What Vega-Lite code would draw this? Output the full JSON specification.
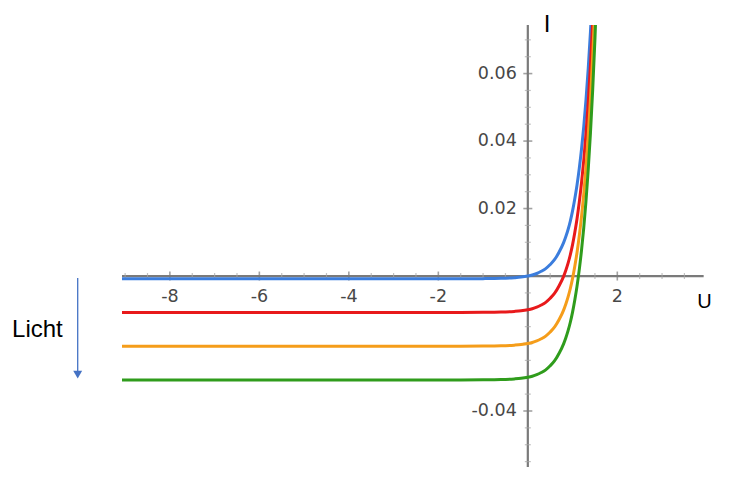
{
  "$schema": "https://vega.github.io/schema/vega-lite/v6.json",
  "width": 583,
  "height": 442,
  "autosize": {"type": "none"},
  "padding": {"left": 122, "top": 25, "right": 32, "bottom": 14},
  "background": "white",
  "config": {"view": {"stroke": null}},
  "data": {"values": [{}]},
  "datasets": {
    "curves": [
      {"U": -9.07, "I": -0.0008, "c": "dark"},
      {"U": -6, "I": -0.0008, "c": "dark"},
      {"U": -3, "I": -0.0008, "c": "dark"},
      {"U": -1.5, "I": -0.0008, "c": "dark"},
      {"U": -1, "I": -0.00077, "c": "dark"},
      {"U": -0.6, "I": -0.00069, "c": "dark"},
      {"U": -0.3, "I": -0.00049, "c": "dark"},
      {"U": -0.15, "I": -0.00031, "c": "dark"},
      {"U": 0, "I": 0, "c": "dark"},
      {"U": 0.1, "I": 0.0003, "c": "dark"},
      {"U": 0.2, "I": 0.00075, "c": "dark"},
      {"U": 0.3, "I": 0.0014, "c": "dark"},
      {"U": 0.4, "I": 0.0022, "c": "dark"},
      {"U": 0.5, "I": 0.0034, "c": "dark"},
      {"U": 0.6, "I": 0.0049, "c": "dark"},
      {"U": 0.7, "I": 0.0071, "c": "dark"},
      {"U": 0.8, "I": 0.0099, "c": "dark"},
      {"U": 0.85, "I": 0.0117, "c": "dark"},
      {"U": 0.9, "I": 0.0138, "c": "dark"},
      {"U": 0.95, "I": 0.0163, "c": "dark"},
      {"U": 1.0, "I": 0.0193, "c": "dark"},
      {"U": 1.05, "I": 0.0229, "c": "dark"},
      {"U": 1.1, "I": 0.027, "c": "dark"},
      {"U": 1.15, "I": 0.0319, "c": "dark"},
      {"U": 1.2, "I": 0.0376, "c": "dark"},
      {"U": 1.25, "I": 0.0443, "c": "dark"},
      {"U": 1.3, "I": 0.0522, "c": "dark"},
      {"U": 1.35, "I": 0.0615, "c": "dark"},
      {"U": 1.4, "I": 0.0724, "c": "dark"},
      {"U": 1.45, "I": 0.0852, "c": "dark"},
      {"U": 1.5, "I": 0.1002, "c": "dark"},

      {"U": -9.07, "I": -0.0108, "c": "low"},
      {"U": -6, "I": -0.0108, "c": "low"},
      {"U": -3, "I": -0.0108, "c": "low"},
      {"U": -1.5, "I": -0.0108, "c": "low"},
      {"U": -1, "I": -0.01077, "c": "low"},
      {"U": -0.6, "I": -0.01069, "c": "low"},
      {"U": -0.3, "I": -0.01049, "c": "low"},
      {"U": -0.15, "I": -0.01031, "c": "low"},
      {"U": 0, "I": -0.01, "c": "low"},
      {"U": 0.1, "I": -0.0097, "c": "low"},
      {"U": 0.2, "I": -0.00925, "c": "low"},
      {"U": 0.3, "I": -0.0086, "c": "low"},
      {"U": 0.4, "I": -0.0078, "c": "low"},
      {"U": 0.5, "I": -0.0066, "c": "low"},
      {"U": 0.6, "I": -0.0051, "c": "low"},
      {"U": 0.7, "I": -0.0029, "c": "low"},
      {"U": 0.8, "I": -0.0001, "c": "low"},
      {"U": 0.85, "I": 0.0017, "c": "low"},
      {"U": 0.9, "I": 0.0038, "c": "low"},
      {"U": 0.95, "I": 0.0063, "c": "low"},
      {"U": 1.0, "I": 0.0093, "c": "low"},
      {"U": 1.05, "I": 0.0129, "c": "low"},
      {"U": 1.1, "I": 0.017, "c": "low"},
      {"U": 1.15, "I": 0.0219, "c": "low"},
      {"U": 1.2, "I": 0.0276, "c": "low"},
      {"U": 1.25, "I": 0.0343, "c": "low"},
      {"U": 1.3, "I": 0.0422, "c": "low"},
      {"U": 1.35, "I": 0.0515, "c": "low"},
      {"U": 1.4, "I": 0.0624, "c": "low"},
      {"U": 1.45, "I": 0.0752, "c": "low"},
      {"U": 1.5, "I": 0.0902, "c": "low"},
      {"U": 1.55, "I": 0.1079, "c": "low"},

      {"U": -9.07, "I": -0.0208, "c": "mid"},
      {"U": -6, "I": -0.0208, "c": "mid"},
      {"U": -3, "I": -0.0208, "c": "mid"},
      {"U": -1.5, "I": -0.0208, "c": "mid"},
      {"U": -1, "I": -0.02077, "c": "mid"},
      {"U": -0.6, "I": -0.02069, "c": "mid"},
      {"U": -0.3, "I": -0.02049, "c": "mid"},
      {"U": -0.15, "I": -0.02031, "c": "mid"},
      {"U": 0, "I": -0.02, "c": "mid"},
      {"U": 0.1, "I": -0.0197, "c": "mid"},
      {"U": 0.2, "I": -0.01925, "c": "mid"},
      {"U": 0.3, "I": -0.0186, "c": "mid"},
      {"U": 0.4, "I": -0.0178, "c": "mid"},
      {"U": 0.5, "I": -0.0166, "c": "mid"},
      {"U": 0.6, "I": -0.0151, "c": "mid"},
      {"U": 0.7, "I": -0.0129, "c": "mid"},
      {"U": 0.8, "I": -0.0101, "c": "mid"},
      {"U": 0.85, "I": -0.0083, "c": "mid"},
      {"U": 0.9, "I": -0.0062, "c": "mid"},
      {"U": 0.95, "I": -0.0037, "c": "mid"},
      {"U": 1.0, "I": -0.0007, "c": "mid"},
      {"U": 1.05, "I": 0.0029, "c": "mid"},
      {"U": 1.1, "I": 0.007, "c": "mid"},
      {"U": 1.15, "I": 0.0119, "c": "mid"},
      {"U": 1.2, "I": 0.0176, "c": "mid"},
      {"U": 1.25, "I": 0.0243, "c": "mid"},
      {"U": 1.3, "I": 0.0322, "c": "mid"},
      {"U": 1.35, "I": 0.0415, "c": "mid"},
      {"U": 1.4, "I": 0.0524, "c": "mid"},
      {"U": 1.45, "I": 0.0652, "c": "mid"},
      {"U": 1.5, "I": 0.0802, "c": "mid"},
      {"U": 1.55, "I": 0.0979, "c": "mid"},

      {"U": -9.07, "I": -0.0308, "c": "high"},
      {"U": -6, "I": -0.0308, "c": "high"},
      {"U": -3, "I": -0.0308, "c": "high"},
      {"U": -1.5, "I": -0.0308, "c": "high"},
      {"U": -1, "I": -0.03077, "c": "high"},
      {"U": -0.6, "I": -0.03069, "c": "high"},
      {"U": -0.3, "I": -0.03049, "c": "high"},
      {"U": -0.15, "I": -0.03031, "c": "high"},
      {"U": 0, "I": -0.03, "c": "high"},
      {"U": 0.1, "I": -0.0297, "c": "high"},
      {"U": 0.2, "I": -0.02925, "c": "high"},
      {"U": 0.3, "I": -0.0286, "c": "high"},
      {"U": 0.4, "I": -0.0278, "c": "high"},
      {"U": 0.5, "I": -0.0266, "c": "high"},
      {"U": 0.6, "I": -0.0251, "c": "high"},
      {"U": 0.7, "I": -0.0229, "c": "high"},
      {"U": 0.8, "I": -0.0201, "c": "high"},
      {"U": 0.85, "I": -0.0183, "c": "high"},
      {"U": 0.9, "I": -0.0162, "c": "high"},
      {"U": 0.95, "I": -0.0137, "c": "high"},
      {"U": 1.0, "I": -0.0107, "c": "high"},
      {"U": 1.05, "I": -0.0071, "c": "high"},
      {"U": 1.1, "I": -0.003, "c": "high"},
      {"U": 1.15, "I": 0.0019, "c": "high"},
      {"U": 1.2, "I": 0.0076, "c": "high"},
      {"U": 1.25, "I": 0.0143, "c": "high"},
      {"U": 1.3, "I": 0.0222, "c": "high"},
      {"U": 1.35, "I": 0.0315, "c": "high"},
      {"U": 1.4, "I": 0.0424, "c": "high"},
      {"U": 1.45, "I": 0.0552, "c": "high"},
      {"U": 1.5, "I": 0.0702, "c": "high"},
      {"U": 1.55, "I": 0.0879, "c": "high"},
      {"U": 1.6, "I": 0.1087, "c": "high"}
    ],
    "xticks": [
      {"v": -9, "major": false, "label": ""},
      {"v": -8.5, "major": false, "label": ""},
      {"v": -8, "major": true, "label": "-8"},
      {"v": -7.5, "major": false, "label": ""},
      {"v": -7, "major": false, "label": ""},
      {"v": -6.5, "major": false, "label": ""},
      {"v": -6, "major": true, "label": "-6"},
      {"v": -5.5, "major": false, "label": ""},
      {"v": -5, "major": false, "label": ""},
      {"v": -4.5, "major": false, "label": ""},
      {"v": -4, "major": true, "label": "-4"},
      {"v": -3.5, "major": false, "label": ""},
      {"v": -3, "major": false, "label": ""},
      {"v": -2.5, "major": false, "label": ""},
      {"v": -2, "major": true, "label": "-2"},
      {"v": -1.5, "major": false, "label": ""},
      {"v": -1, "major": false, "label": ""},
      {"v": -0.5, "major": false, "label": ""},
      {"v": 0.5, "major": false, "label": ""},
      {"v": 1, "major": false, "label": ""},
      {"v": 1.5, "major": false, "label": ""},
      {"v": 2, "major": true, "label": "2"},
      {"v": 2.5, "major": false, "label": ""},
      {"v": 3, "major": false, "label": ""},
      {"v": 3.5, "major": false, "label": ""}
    ],
    "yticks": [
      {"v": -0.055, "major": false, "label": ""},
      {"v": -0.05, "major": false, "label": ""},
      {"v": -0.045, "major": false, "label": ""},
      {"v": -0.04, "major": true, "label": "-0.04"},
      {"v": -0.035, "major": false, "label": ""},
      {"v": -0.03, "major": false, "label": ""},
      {"v": -0.025, "major": false, "label": ""},
      {"v": -0.02, "major": true, "label": ""},
      {"v": -0.015, "major": false, "label": ""},
      {"v": -0.01, "major": false, "label": ""},
      {"v": -0.005, "major": false, "label": ""},
      {"v": 0.005, "major": false, "label": ""},
      {"v": 0.01, "major": false, "label": ""},
      {"v": 0.015, "major": false, "label": ""},
      {"v": 0.02, "major": true, "label": "0.02"},
      {"v": 0.025, "major": false, "label": ""},
      {"v": 0.03, "major": false, "label": ""},
      {"v": 0.035, "major": false, "label": ""},
      {"v": 0.04, "major": true, "label": "0.04"},
      {"v": 0.045, "major": false, "label": ""},
      {"v": 0.05, "major": false, "label": ""},
      {"v": 0.055, "major": false, "label": ""},
      {"v": 0.06, "major": true, "label": "0.06"},
      {"v": 0.065, "major": false, "label": ""},
      {"v": 0.07, "major": false, "label": ""}
    ]
  },
  "layer": [
    {
      "mark": {"type": "rule", "color": "#7a7a7a", "strokeWidth": 2.2},
      "encoding": {
        "x": {"datum": -9.07, "type": "quantitative", "axis": null,
              "scale": {"domain": [-9.07, 3.96], "nice": false, "zero": false}},
        "x2": {"datum": 3.93},
        "y": {"datum": 0, "type": "quantitative", "axis": null,
              "scale": {"domain": [-0.0566, 0.0744], "nice": false, "zero": false}}
      }
    },
    {
      "mark": {"type": "rule", "color": "#7a7a7a", "strokeWidth": 2.2},
      "encoding": {
        "x": {"datum": 0, "type": "quantitative", "axis": null},
        "y": {"datum": -0.0566, "type": "quantitative", "axis": null},
        "y2": {"datum": 0.0744}
      }
    },
    {
      "data": {"name": "xticks"},
      "transform": [{"filter": "datum.major"}],
      "mark": {"type": "tick", "orient": "vertical", "color": "#7a7a7a", "size": 9, "thickness": 1.6},
      "encoding": {
        "x": {"field": "v", "type": "quantitative", "axis": null},
        "y": {"datum": 0, "type": "quantitative", "axis": null}
      }
    },
    {
      "data": {"name": "xticks"},
      "transform": [{"filter": "!datum.major"}],
      "mark": {"type": "tick", "orient": "vertical", "color": "#a6a6a6", "size": 6, "thickness": 1.2},
      "encoding": {
        "x": {"field": "v", "type": "quantitative", "axis": null},
        "y": {"datum": 0, "type": "quantitative", "axis": null}
      }
    },
    {
      "data": {"name": "yticks"},
      "transform": [{"filter": "datum.major"}],
      "mark": {"type": "tick", "orient": "horizontal", "color": "#7a7a7a", "size": 9, "thickness": 1.6},
      "encoding": {
        "x": {"datum": 0, "type": "quantitative", "axis": null},
        "y": {"field": "v", "type": "quantitative", "axis": null}
      }
    },
    {
      "data": {"name": "yticks"},
      "transform": [{"filter": "!datum.major"}],
      "mark": {"type": "tick", "orient": "horizontal", "color": "#a6a6a6", "size": 6, "thickness": 1.2},
      "encoding": {
        "x": {"datum": 0, "type": "quantitative", "axis": null},
        "y": {"field": "v", "type": "quantitative", "axis": null}
      }
    },
    {
      "data": {"name": "xticks"},
      "transform": [{"filter": "datum.label != ''"}],
      "mark": {"type": "text", "dy": 21, "font": "DejaVu Sans", "fontSize": 17.5, "color": "#474747", "baseline": "middle", "align": "center"},
      "encoding": {
        "x": {"field": "v", "type": "quantitative", "axis": null},
        "y": {"datum": 0, "type": "quantitative", "axis": null},
        "text": {"field": "label"}
      }
    },
    {
      "data": {"name": "yticks"},
      "transform": [{"filter": "datum.label != ''"}],
      "mark": {"type": "text", "dx": -11, "font": "DejaVu Sans", "fontSize": 17.5, "color": "#474747", "baseline": "middle", "align": "right"},
      "encoding": {
        "x": {"datum": 0, "type": "quantitative", "axis": null},
        "y": {"field": "v", "type": "quantitative", "axis": null},
        "text": {"field": "label"}
      }
    },
    {
      "data": {"name": "curves"},
      "mark": {"type": "line", "clip": true, "strokeWidth": 3, "interpolate": "monotone"},
      "encoding": {
        "x": {"field": "U", "type": "quantitative", "axis": null},
        "y": {"field": "I", "type": "quantitative", "axis": null},
        "color": {
          "field": "c", "type": "nominal", "legend": null,
          "scale": {"domain": ["high", "mid", "low", "dark"], "range": ["#2f9c1c", "#f59d1a", "#e8191b", "#3b7ddd"]}
        },
        "order": {"field": "U", "type": "quantitative"}
      }
    },
    {
      "mark": {"type": "text", "text": "U", "font": "Liberation Sans", "fontSize": 20, "color": "#000000", "align": "center", "baseline": "middle"},
      "encoding": {
        "x": {"datum": 3.95, "type": "quantitative", "axis": null},
        "y": {"datum": -0.0076, "type": "quantitative", "axis": null}
      }
    },
    {
      "mark": {"type": "text", "text": "I", "font": "Liberation Sans", "fontSize": 24, "color": "#000000", "align": "center", "baseline": "middle"},
      "encoding": {
        "x": {"datum": 0.43, "type": "quantitative", "axis": null},
        "y": {"datum": 0.0745, "type": "quantitative", "axis": null}
      }
    },
    {
      "mark": {"type": "text", "text": "Licht", "font": "Liberation Sans", "fontSize": 24, "color": "#000000", "align": "center", "baseline": "middle"},
      "encoding": {
        "x": {"datum": -10.96, "type": "quantitative", "axis": null},
        "y": {"datum": -0.016, "type": "quantitative", "axis": null}
      }
    },
    {
      "mark": {"type": "rule", "color": "#4472c4", "strokeWidth": 1.3},
      "encoding": {
        "x": {"datum": -10.06, "type": "quantitative", "axis": null},
        "y": {"datum": -0.0006, "type": "quantitative", "axis": null},
        "y2": {"datum": -0.0285}
      }
    },
    {
      "mark": {"type": "point", "shape": "triangle-down", "filled": true, "color": "#4472c4", "size": 80, "opacity": 1},
      "encoding": {
        "x": {"datum": -10.06, "type": "quantitative", "axis": null},
        "y": {"datum": -0.0292, "type": "quantitative", "axis": null}
      }
    }
  ]
}
